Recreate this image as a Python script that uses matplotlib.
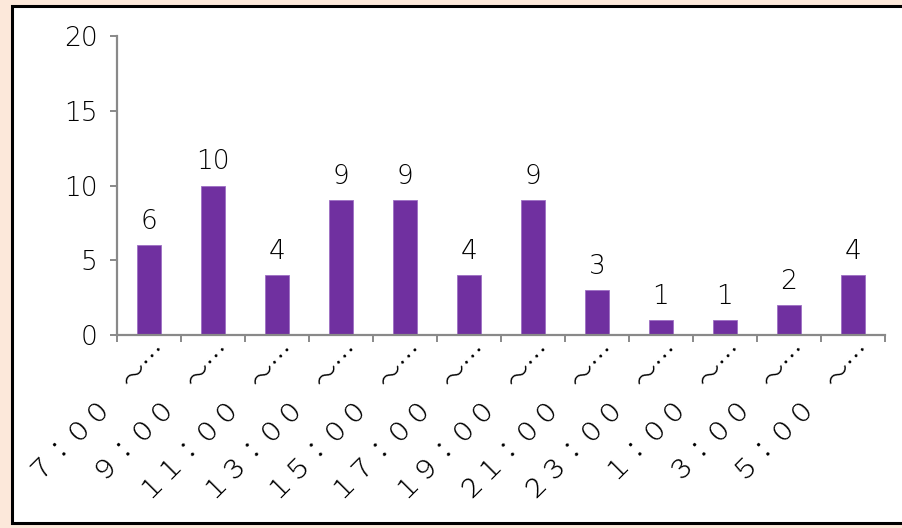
import matplotlib
matplotlib.use("Agg")
import matplotlib.pyplot as plt
from matplotlib.patches import Rectangle
from matplotlib.transforms import offset_copy

# data
labels = ["７：００　～…", "９：００　～…", "１１：００　～…", "１３：００　～…",
          "１５：００　～…", "１７：００　～…", "１９：００　～…", "２１：００　～…",
          "２３：００　～…", "１：００　～…", "３：００　～…", "５：００　～…"]
counts = [6, 10, 4, 9, 9, 4, 9, 3, 1, 1, 2, 4]
yticks = [0, 5, 10, 15, 20]

W, H = 903, 528
fig = plt.figure(figsize=(W / 100, H / 100), dpi=100, facecolor="#fce8da")

# white panel with black frame
fig.patches.append(Rectangle((12 / W, 1 - 523 / H), 1.0, (523 - 6) / H,
                             transform=fig.transFigure, facecolor="white",
                             edgecolor="black", linewidth=2.2, zorder=-5))

ax = fig.add_axes([117 / W, 1 - 335 / H, (885 - 117) / W, (335 - 36) / H])
ax.set_facecolor("none")

num_font = dict(fontsize=19, family="DejaVu Sans", fontweight="light")

x = list(range(len(counts)))
bars = ax.bar(x, counts, width=0.39, color="#7030a0", edgecolor="#9d6fc4",
              linewidth=0.6, zorder=2)
ax.bar_label(bars, padding=8, **num_font)

ax.set_xlim(-0.5, len(counts) - 0.5)
ax.set_ylim(0, 20)
ax.set_yticks(yticks)
ax.set_yticklabels([str(v) for v in yticks], **num_font)

for s in ["top", "right"]:
    ax.spines[s].set_visible(False)
for s in ["left", "bottom"]:
    ax.spines[s].set_color("#898989")
    ax.spines[s].set_linewidth(1.6)

ax.tick_params(axis="y", length=5, width=1.4, color="#898989", pad=9)
# ticks between categories
ax.set_xticks([i - 0.5 for i in range(len(counts) + 1)])
ax.set_xticklabels([])
ax.tick_params(axis="x", length=5, width=1.4, color="#898989")

trans = offset_copy(ax.get_xaxis_transform(), fig=fig, x=5, y=-3, units="dots")
for i, lab in enumerate(labels):
    ax.text(i, 0, lab, transform=trans, rotation=45, rotation_mode="anchor",
            ha="right", va="top", fontsize=19, fontweight="light",
            family=["Noto Sans CJK JP", "DejaVu Sans"])

fig.savefig("out.png", dpi=100, facecolor=fig.get_facecolor())
